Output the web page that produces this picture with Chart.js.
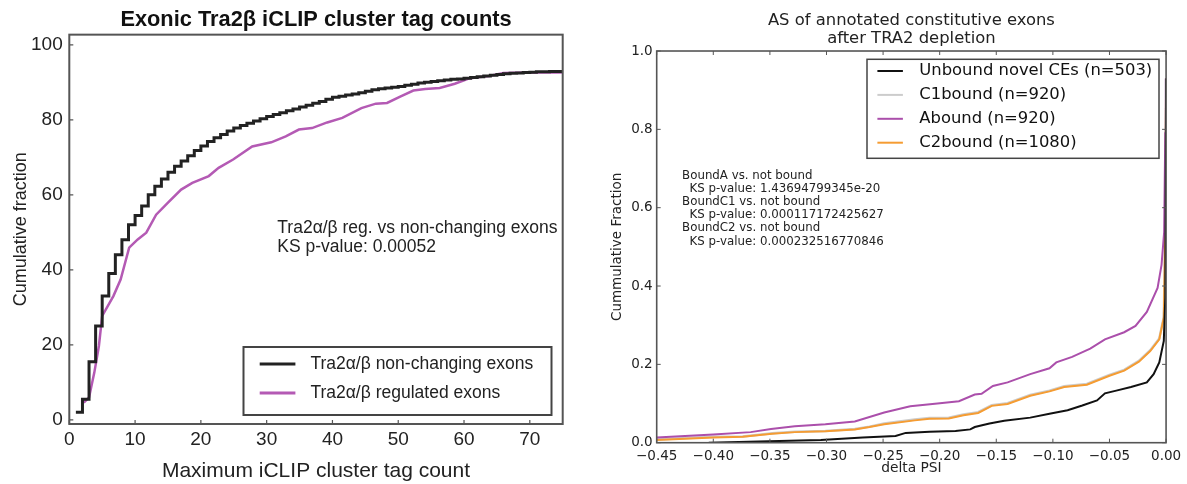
<!DOCTYPE html>
<html><head><meta charset="utf-8">
<script src="https://cdn.jsdelivr.net/npm/chart.js@4.4.1/dist/chart.umd.min.js"></script>
<style>
html,body{margin:0;padding:0;background:#fff;}
body{width:1187px;height:484px;position:relative;overflow:hidden;}
#c1{position:absolute;left:0;top:0;width:590px;height:484px;}
#c2{position:absolute;left:590px;top:0;width:597px;height:484px;}
</style></head><body>
<canvas id="c1" width="590" height="484"></canvas>
<canvas id="c2" width="597" height="484"></canvas>
<script>
// ---------- LEFT CHART DATA ----------
const leftXTicks = [0, 10, 20, 30, 40, 50, 60, 70];
const leftXTickLabels = ['0', '10', '20', '30', '40', '50', '60', '70'];
const leftYTicks = [0, 20, 40, 60, 80, 100];
const leftYTickLabels = ['0', '20', '40', '60', '80', '100'];

const nonChangingCount = [1,2,3,4,5,6,7,8,9,10,11,12,13,14,15,16,17,18,19,20,21,22,23,24,25,26,27,28,29,30,31,32,33,34,35,36,37,38,39,40,41,42,43,44,45,46,47,48,49,50,51,52,53,54,55,56,57,58,59,60,61,62,63,64,65,66,67,68,69,70,71,72,73,74,75];
const nonChangingPct = [2,5.5,15.5,25,33,39,44,48,52,54.5,57,60,62.3,64.2,66,67.6,69,70.4,71.8,73,74.2,75.2,76.1,77,77.8,78.5,79.1,79.7,80.3,80.9,81.4,81.9,82.4,82.9,83.4,83.9,84.4,84.9,85.5,86,86.3,86.6,86.9,87.2,87.6,88,88.3,88.5,88.7,88.9,89.2,89.5,89.8,90,90.2,90.4,90.6,90.8,90.9,91.1,91.3,91.5,91.7,91.9,92.1,92.3,92.4,92.5,92.6,92.7,92.8,92.8,92.9,92.9,92.9];

const regulatedCount = [2.2,3,3.8,4.5,5,6.7,7.8,9.1,10.4,11.7,13.2,15,17,18.7,21.2,22.7,24.9,27.8,30.7,32.9,34.9,36.9,39.2,41.5,44.4,46.6,48.3,50.3,52.3,54.1,56.3,58.6,60.9,63.8,66,69.5,75];
const regulatedPct = [4.6,6,12.6,19.7,27.7,33,37.4,45.9,48.1,49.9,54.7,57.9,61.4,63.2,65,67.2,69.4,72.9,74,75.6,77.4,77.8,79.3,80.5,83.1,84.3,84.5,86.2,87.8,88.2,88.5,89.6,91.1,91.7,92.5,92.6,92.6];

// ---------- RIGHT CHART DATA ----------
const rightXTicks = [-0.45,-0.40,-0.35,-0.30,-0.25,-0.20,-0.15,-0.10,-0.05,0.00];
const rightXTickLabels = ['\u22120.45','\u22120.40','\u22120.35','\u22120.30','\u22120.25','\u22120.20','\u22120.15','\u22120.10','\u22120.05','0.00'];
const rightYTicks = [0, 0.2, 0.4, 0.6, 0.8, 1.0];
const rightYTickLabels = ['0.0','0.2','0.4','0.6','0.8','1.0'];

const unboundPsi  = [-0.404,-0.351,-0.305,-0.268,-0.239,-0.230,-0.209,-0.186,-0.173,-0.169,-0.156,-0.143,-0.120,-0.103,-0.087,-0.074,-0.061,-0.054,-0.044,-0.031,-0.017,-0.011,-0.006,-0.002,-0.0007,0];
const unboundFrac = [0.0,0.004,0.007,0.0135,0.017,0.025,0.028,0.030,0.034,0.040,0.049,0.056,0.064,0.074,0.083,0.095,0.108,0.126,0.133,0.142,0.154,0.175,0.205,0.260,0.370,0.93];

const c2Psi  = [-0.45,-0.40,-0.374,-0.348,-0.328,-0.301,-0.275,-0.262,-0.249,-0.222,-0.209,-0.192,-0.179,-0.166,-0.154,-0.140,-0.120,-0.103,-0.090,-0.070,-0.050,-0.037,-0.024,-0.014,-0.006,-0.002,-0.0007,0];
const c2Frac = [0.007,0.0135,0.015,0.023,0.027,0.029,0.034,0.040,0.047,0.057,0.061,0.062,0.070,0.076,0.094,0.099,0.120,0.131,0.142,0.148,0.171,0.184,0.207,0.234,0.264,0.319,0.538,0.93];

const c1Psi  = [-0.45,-0.40,-0.374,-0.348,-0.328,-0.301,-0.275,-0.262,-0.249,-0.222,-0.209,-0.192,-0.179,-0.166,-0.154,-0.140,-0.120,-0.103,-0.090,-0.070,-0.050,-0.037,-0.024,-0.014,-0.006,-0.002,-0.0007,0];
const c1Frac = [0.008,0.015,0.016,0.024,0.028,0.030,0.035,0.041,0.049,0.059,0.063,0.064,0.072,0.078,0.096,0.101,0.122,0.133,0.144,0.150,0.173,0.186,0.209,0.236,0.266,0.321,0.540,0.93];

const aboundPsi  = [-0.45,-0.40,-0.367,-0.349,-0.328,-0.301,-0.275,-0.249,-0.226,-0.202,-0.183,-0.169,-0.163,-0.153,-0.140,-0.120,-0.103,-0.097,-0.083,-0.067,-0.054,-0.037,-0.027,-0.017,-0.0075,-0.004,-0.0017,-0.0007,-0.0002];
const aboundFrac = [0.0135,0.021,0.027,0.035,0.042,0.047,0.054,0.077,0.093,0.100,0.106,0.123,0.125,0.145,0.154,0.175,0.190,0.205,0.219,0.240,0.264,0.282,0.298,0.334,0.395,0.454,0.538,0.79,0.93];

const pts = (xs, ys) => xs.map((x, i) => ({x: x, y: ys[i]}));

// ---------- PLUGINS ----------
function framePlugin(cfg) {
  return {
    id: 'frame_' + cfg.name,
    afterDatasetsDraw(chart) {
      const ctx = chart.ctx, a = chart.chartArea;
      const xs = chart.scales.x, ys = chart.scales.y;
      ctx.save();
      ctx.strokeStyle = cfg.color;
      ctx.lineWidth = cfg.tickWidth;
      ctx.beginPath();
      xs.ticks.forEach(t => {
        const px = xs.getPixelForValue(t.value);
        ctx.moveTo(px, a.bottom); ctx.lineTo(px, a.bottom - cfg.tickLen);
        if (cfg.mirror) { ctx.moveTo(px, a.top); ctx.lineTo(px, a.top + cfg.tickLen); }
      });
      ys.ticks.forEach(t => {
        const py = ys.getPixelForValue(t.value);
        ctx.moveTo(a.left, py); ctx.lineTo(a.left + cfg.tickLen, py);
        if (cfg.mirror) { ctx.moveTo(a.right, py); ctx.lineTo(a.right - cfg.tickLen, py); }
      });
      ctx.stroke();
      ctx.lineWidth = cfg.width;
      ctx.strokeRect(a.left, a.top, a.right - a.left, a.bottom - a.top);
      ctx.restore();
    }
  };
}
function legendPlugin(cfg) {
  return {
    id: 'legend_' + cfg.name,
    afterDraw(chart) {
      const ctx = chart.ctx;
      ctx.save();
      ctx.fillStyle = '#fff';
      ctx.fillRect(cfg.x, cfg.y, cfg.w, cfg.h);
      ctx.strokeStyle = cfg.border; ctx.lineWidth = cfg.borderWidth;
      ctx.strokeRect(cfg.x, cfg.y, cfg.w, cfg.h);
      ctx.font = cfg.font; ctx.textBaseline = 'middle'; ctx.textAlign = 'left';
      chart.data.datasets.forEach((ds, i) => {
        const y = cfg.firstY + i * cfg.rowGap;
        ctx.strokeStyle = ds.borderColor; ctx.lineWidth = cfg.sampleWidth;
        ctx.beginPath(); ctx.moveTo(cfg.sx0, y); ctx.lineTo(cfg.sx1, y); ctx.stroke();
        ctx.fillStyle = cfg.textColor;
        ctx.fillText(ds.label, cfg.tx, y);
      });
      ctx.restore();
    }
  };
}
function notePlugin(cfg) {
  return {
    id: 'note_' + cfg.name,
    afterDraw(chart) {
      const ctx = chart.ctx;
      ctx.save();
      ctx.font = cfg.font; ctx.fillStyle = cfg.color;
      ctx.textBaseline = 'middle'; ctx.textAlign = 'left';
      cfg.lines.forEach(l => ctx.fillText(l.text, l.x, l.y));
      ctx.restore();
    }
  };
}

// ---------- LEFT CHART ----------
const LF = 'Liberation Sans, Arial, sans-serif';
new Chart(document.getElementById('c1'), {
  type: 'line',
  data: {
    datasets: [
      { label: 'Tra2\u03b1/\u03b2 non-changing exons', data: pts(nonChangingCount, nonChangingPct),
        borderColor: '#222222', borderWidth: 3, stepped: 'before', pointRadius: 0, fill: false },
      { label: 'Tra2\u03b1/\u03b2 regulated exons', data: pts(regulatedCount, regulatedPct),
        borderColor: '#b45ab4', borderWidth: 2.5, tension: 0, pointRadius: 0, fill: false }
    ]
  },
  options: {
    responsive: false, animation: false, devicePixelRatio: 1, events: [],
    layout: { padding: { left: 0, right: 27.3, top: 0, bottom: 0 } },
    plugins: {
      legend: { display: false }, tooltip: { enabled: false },
      title: { display: true, fullSize: false, text: 'Exonic Tra2\u03b2 iCLIP cluster tag counts', color: '#111',
        font: { family: LF, size: 21.8, weight: 'bold', lineHeight: 1.2 }, padding: { top: 7, bottom: 1.5 } }
    },
    scales: {
      x: { type: 'linear', min: 0, max: 75,
        afterBuildTicks: s => { s.ticks = leftXTicks.map(v => ({ value: v })); },
        afterFit: s => { s.height = 60; },
        grid: { display: false, drawTicks: false }, border: { display: false },
        ticks: { autoSkip: false, maxRotation: 0, padding: 4.6, color: '#222',
          font: { family: LF, size: 19 }, callback: (v, i) => leftXTickLabels[i] },
        title: { display: true, text: 'Maximum iCLIP cluster tag count', color: '#222',
          font: { family: LF, size: 21 }, padding: { top: 0, bottom: 0 } } },
      y: { type: 'linear', min: -1.1, max: 102.7,
        afterBuildTicks: s => { s.ticks = leftYTicks.map(v => ({ value: v })); },
        afterFit: s => { s.width = 69.3; },
        grid: { display: false, drawTicks: false }, border: { display: false },
        ticks: { autoSkip: false, padding: 6.6, color: '#222',
          font: { family: LF, size: 19 }, callback: (v, i) => leftYTickLabels[i] },
        title: { display: true, text: 'Cumulative fraction', color: '#222',
          font: { family: LF, size: 18 }, padding: { top: 10.2, bottom: 0 } } }
    }
  },
  plugins: [
    framePlugin({ name: 'l', color: '#555', width: 2, tickWidth: 1.2, tickLen: 4, mirror: false }),
    legendPlugin({ name: 'l', x: 243.5, y: 347, w: 308, h: 68, border: '#444', borderWidth: 2,
      font: '17.5px ' + LF, firstY: 364, rowGap: 29, sx0: 259.7, sx1: 295.4, tx: 310.4,
      sampleWidth: 3, textColor: '#222' }),
    notePlugin({ name: 'l', font: '17.5px ' + LF, color: '#222', lines: [
      { text: 'Tra2\u03b1/\u03b2 reg. vs non-changing exons', x: 277.3, y: 228 },
      { text: 'KS p-value: 0.00052', x: 277.3, y: 247 } ] })
  ]
});

// ---------- RIGHT CHART ----------
const RF = 'DejaVu Sans, sans-serif';
const OX = 590;
new Chart(document.getElementById('c2'), {
  type: 'line',
  data: {
    datasets: [
      { label: 'Unbound novel CEs (n=503)', data: pts(unboundPsi, unboundFrac), order: 1,
        borderColor: '#111111', borderWidth: 2, pointRadius: 0, tension: 0, fill: false },
      { label: 'C1bound (n=920)', data: pts(c1Psi, c1Frac), order: 4,
        borderColor: '#cccccc', borderWidth: 2.5, pointRadius: 0, tension: 0, fill: false },
      { label: 'Abound (n=920)', data: pts(aboundPsi, aboundFrac), order: 2,
        borderColor: '#ab4fab', borderWidth: 2, pointRadius: 0, tension: 0, fill: false },
      { label: 'C2bound (n=1080)', data: pts(c2Psi, c2Frac), order: 3,
        borderColor: '#f59c32', borderWidth: 2, pointRadius: 0, tension: 0, fill: false }
    ]
  },
  options: {
    responsive: false, animation: false, devicePixelRatio: 1, events: [],
    layout: { padding: { left: 0, right: 20.3, top: 0, bottom: 0 } },
    plugins: {
      legend: { display: false }, tooltip: { enabled: false },
      title: { display: true, fullSize: false, text: ['AS of annotated constitutive exons', 'after TRA2 depletion'],
        color: '#222', font: { family: RF, size: 16.4, weight: 'normal', lineHeight: 1.104 },
        padding: { top: 11.45, bottom: 3.35 } }
    },
    scales: {
      x: { type: 'linear', min: -0.45, max: 0,
        afterBuildTicks: s => { s.ticks = rightXTicks.map(v => ({ value: v })); },
        afterFit: s => { s.height = 41.3; },
        grid: { display: false, drawTicks: false }, border: { display: false },
        ticks: { autoSkip: false, maxRotation: 0, padding: 5.9, color: '#222',
          font: { family: RF, size: 13.5 }, callback: (v, i) => rightXTickLabels[i] },
        title: { display: true, text: 'delta PSI', color: '#222',
          font: { family: RF, size: 13.8 }, padding: { top: 0, bottom: 7.1 } } },
      y: { type: 'linear', min: 0, max: 1,
        afterBuildTicks: s => { s.ticks = rightYTicks.map(v => ({ value: v })); },
        afterFit: s => { s.width = 66.7; },
        grid: { display: false, drawTicks: false }, border: { display: false },
        ticks: { autoSkip: false, padding: 4, color: '#222',
          font: { family: RF, size: 13.5 }, callback: (v, i) => rightYTickLabels[i] },
        title: { display: true, text: 'Cummulative Fraction', color: '#222',
          font: { family: RF, size: 13.5 }, padding: { top: 19.3, bottom: 0 } } }
    }
  },
  plugins: [
    framePlugin({ name: 'r', color: '#555', width: 1.6, tickWidth: 1, tickLen: 4, mirror: true }),
    legendPlugin({ name: 'r', x: 867 - OX, y: 59.3, w: 292, h: 99, border: '#444', borderWidth: 1.5,
      font: '16.4px ' + RF, firstY: 71, rowGap: 23.9, sx0: 877.4 - OX, sx1: 902.9 - OX, tx: 919.3 - OX,
      sampleWidth: 2, textColor: '#111' }),
    notePlugin({ name: 'r', font: '11.8px ' + RF, color: '#222', lines: [
      { text: 'BoundA vs. not bound', x: 682.1 - OX, y: 175.6 },
      { text: 'KS p-value: 1.43694799345e-20', x: 689.6 - OX, y: 188.8 },
      { text: 'BoundC1 vs. not bound', x: 682.1 - OX, y: 202 },
      { text: 'KS p-value: 0.000117172425627', x: 689.6 - OX, y: 215.2 },
      { text: 'BoundC2 vs. not bound', x: 682.1 - OX, y: 228.4 },
      { text: 'KS p-value: 0.000232516770846', x: 689.6 - OX, y: 241.6 } ] })
  ]
});
</script></body></html>
